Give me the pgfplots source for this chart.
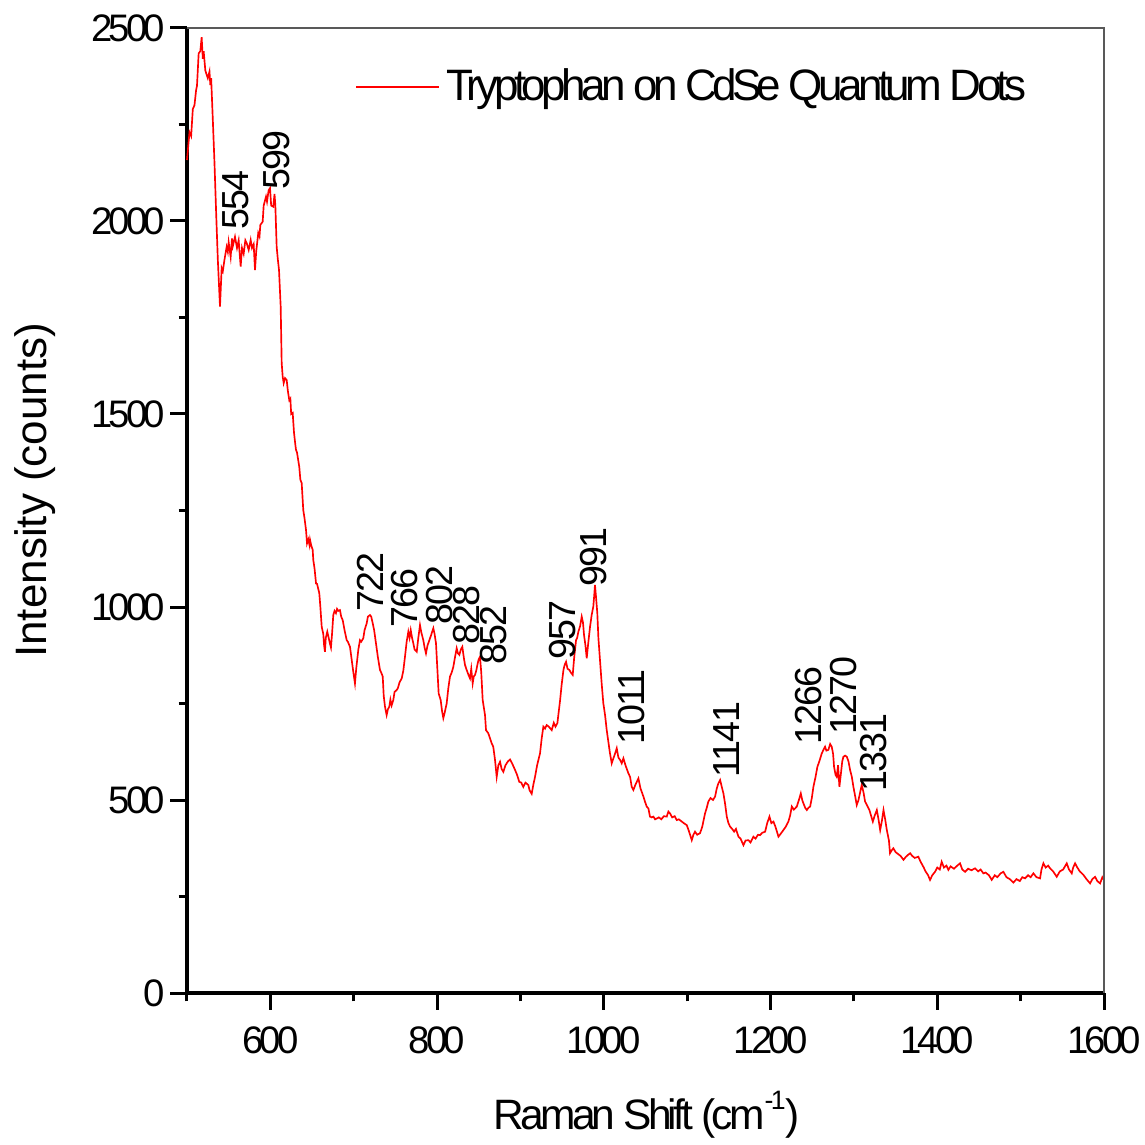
\documentclass[border=0pt]{standalone}
\usepackage{fontspec}
\setmainfont{Liberation Sans}
\newfontfamily\tickfont{Liberation Sans}[LetterSpace=-10]
\newfontfamily\legfont{Liberation Sans}[LetterSpace=-10.5]
\newfontfamily\xlabfont{Liberation Sans}[LetterSpace=-9]
\newfontfamily\annfont{Liberation Sans}[LetterSpace=-5]
\usepackage{pgfplots}
\pgfplotsset{compat=1.18}
\begin{document}
\begin{tikzpicture}
\begin{axis}[
 scale only axis, width=275.1pt, height=289.5pt,
 xmin=500, xmax=1600, ymin=0, ymax=2500,
 axis x line*=bottom, axis y line*=left,
 axis line style={line width=1pt, black},
 tick align=outside,
 xtick={600,800,...,1600}, minor xtick={500,700,...,1500},
 ytick={0,500,...,2500}, minor ytick={250,750,...,2250},
 major tick length=5pt, minor tick length=2.5pt,
 every tick/.style={black, line width=0.9pt},
 tick label style={font=\tickfont\fontsize{11.5}{13}\selectfont},
 yticklabel style={xshift=2pt},
 xticklabel style={yshift=-1.5pt},
 /pgf/number format/assume math mode=true,
 /pgf/number format/1000 sep={},
 xlabel={Raman Shift (cm\raisebox{0.9ex}{\fontsize{8}{9}\selectfont -1})},
 ylabel={Intensity (counts)},
 xlabel style={font=\xlabfont\fontsize{12.75}{15}\selectfont, at={(axis description cs:0.5016,-0.126)}, anchor=center},
 ylabel style={font=\fontsize{13.2}{15}\selectfont, at={(axis description cs:-0.166,0.521)}, anchor=center},
 legend style={at={(axis description cs:0.183,0.939)}, anchor=west, draw=none, fill=none, font=\legfont\fontsize{13.2}{15}\selectfont, inner sep=0pt},
 legend cell align=left,
 legend image code/.code={\draw[#1] (0cm,0cm) -- (0.87cm,0cm);},
 clip=false,
]
\addplot[red, line width=0.5pt] coordinates {
(500,2158)(503,2230)(505,2220)(507,2290)(509,2300)(511,2340)(512,2350)(514,2434)(516,2440)(517.6,2476)(519,2420)(520,2440)(522,2390)(523,2383)(525,2370)(527,2387)(528,2352)(529,2370)(531,2262)(533,2150)(535,2020)(537,1900)(539.6,1778)(541.6,1878)(543,1870)(545,1900)(547.6,1933)(549,1920)(550,1945)(552.4,1907)(554,1955)(555,1935)(557.6,1959)(560,1930)(562,1950)(564.4,1882)(566,1930)(568,1915)(570,1950)(571.6,1943)(574,1925)(576.4,1951)(578,1930)(580,1940)(581.6,1873)(583,1920)(585.5,1969)(587,1960)(588,1990)(590.8,1998)(592,2040)(594.8,2063)(596,2050)(598,2080)(599.6,2085)(601,2040)(603.5,2037)(605,2070)(606,2040)(607.6,1933)(609,1900)(610.4,1873)(612.4,1778)(613.6,1632)(614.8,1597)(616,1580)(617.6,1593)(619.6,1588)(621,1560)(622.7,1536)(624,1540)(625,1500)(626.8,1503)(628.4,1451)(630,1420)(630.8,1407)(632,1400)(634.7,1363)(636,1330)(637.6,1321)(639.5,1251)(641,1230)(642.8,1199)(644,1165)(645.5,1175)(647,1160)(647.6,1174)(649,1160)(650.8,1148)(651.5,1122)(653,1100)(654.8,1061)(656,1060)(658.7,1036)(660,1000)(661.6,949)(663.5,930)(664.5,900)(665.5,884)(666.5,920)(668.3,936)(670,920)(671.5,905)(672.7,895)(674,930)(675.5,979)(677,990)(678.7,984)(680,995)(681.5,990)(683.5,992)(685,975)(686.8,966)(689,940)(691.6,914)(693,910)(695.5,897)(697.6,863)(699,840)(700.3,820)(701.5,802)(703,840)(705.5,889)(707.5,914)(709,910)(711.5,919)(713,940)(715.6,958)(717,975)(719.5,979)(721,975)(722.8,958)(724.5,940)(726.7,906)(729,870)(731.5,837)(733,830)(734.8,820)(736,770)(737.5,742)(739.5,720)(741,735)(742.7,742)(744,760)(745.5,745)(747.5,759)(749,780)(751.6,785)(753,790)(755,805)(757.6,815)(759.5,835)(761.5,871)(763.5,910)(765.5,936)(767,920)(768.4,940)(770,920)(771.5,906)(773,890)(775.6,884)(777.5,920)(779.5,953)(781,935)(783.5,914)(785,895)(786.7,880)(788.5,900)(790.7,914)(792.5,925)(795.5,945)(797,930)(798.7,906)(801.9,776)(804.3,759)(806,730)(807.5,712)(809,725)(811.5,750)(813.5,790)(815.5,820)(817.5,830)(819.5,845)(821.5,870)(823.5,893)(825,880)(826.7,876)(828.5,890)(830.3,897)(832,870)(833.5,850)(835.5,837)(837.5,825)(839.5,815)(841,840)(842.7,802)(844,820)(845.5,824)(847,835)(848.7,854)(850,865)(851.5,871)(853,830)(854.7,759)(857.5,720)(858.7,681)(861.4,673)(863.5,660)(865.5,647)(867.4,638)(869.5,604)(871.5,560)(873.5,590)(875.5,599)(877.5,580)(879.5,573)(882,590)(885,600)(887.5,605)(890,595)(893.5,578)(896,565)(898.6,547)(901,545)(903.4,534)(906,545)(909.4,539)(911,525)(913.5,516)(915.5,540)(917.5,560)(920,590)(923.5,621)(925.5,660)(927.5,690)(929.5,685)(931.5,694)(934,690)(937.5,681)(940,700)(942,690)(944.3,699)(946,730)(947.6,759)(949.5,800)(951.6,837)(953,850)(954.7,858)(956.5,840)(958.7,837)(960.5,830)(962.7,824)(964.5,870)(966.7,914)(968,920)(969.5,936)(971.5,950)(973.5,975)(975,960)(976.3,927)(978,900)(979.5,867)(981.5,910)(983.5,949)(985.5,980)(987.4,1001)(988.5,1030)(989.4,1057)(990.5,1030)(992.2,984)(993.5,920)(995.4,863)(997.5,800)(999.4,751)(1001.5,720)(1003.5,681)(1005.5,650)(1007.4,621)(1009.5,595)(1011,605)(1013.5,620)(1015.5,634)(1017.5,610)(1019.5,604)(1021.5,595)(1023.5,608)(1026,590)(1029.5,569)(1031.5,560)(1033.5,534)(1035.5,526)(1038,540)(1041.5,556)(1044,530)(1047.5,509)(1049.5,495)(1051.5,483)(1053.5,478)(1055.4,457)(1057.5,455)(1059.5,457)(1061.5,450)(1063.5,452)(1066,455)(1069,450)(1072,458)(1075.5,457)(1077.5,470)(1079.5,465)(1082,455)(1085,458)(1087.5,448)(1090,450)(1093,445)(1096,440)(1099.5,435)(1102,420)(1105.5,396)(1107.5,410)(1109.4,418)(1112,410)(1115.4,414)(1118,430)(1121.4,465)(1123.5,480)(1125.4,496)(1128,505)(1131,500)(1133.5,509)(1135.5,530)(1137.4,543)(1139.5,552)(1141.5,534)(1143.5,517)(1145.5,490)(1147.5,457)(1149.5,440)(1151.5,431)(1154,425)(1156.3,418)(1158.5,425)(1161.5,405)(1164,400)(1167.5,383)(1170,395)(1173.5,396)(1176,390)(1179.4,405)(1182,400)(1185,410)(1187.5,409)(1190,415)(1193.5,418)(1196,440)(1198.7,457)(1201,440)(1203.5,444)(1206,430)(1209.5,405)(1212,412)(1215.4,422)(1218,430)(1221.4,444)(1223.5,460)(1225.5,483)(1228,475)(1231.5,483)(1234,500)(1236.3,517)(1238,500)(1239.5,491)(1241.5,480)(1243.5,474)(1245.5,480)(1247.5,483)(1249.5,505)(1251.4,534)(1254,560)(1256.2,586)(1258.5,600)(1261.5,621)(1263.5,630)(1265.4,638)(1267,628)(1269.4,630)(1271.5,645)(1273.4,638)(1275,620)(1276.2,586)(1278,565)(1279.4,560)(1281,590)(1282.6,534)(1284.5,570)(1286,600)(1287.4,612)(1289.5,615)(1291.5,612)(1293.5,600)(1295.4,578)(1297.5,560)(1299.4,534)(1301.5,510)(1303.4,487)(1305.5,500)(1307.5,520)(1309.4,539)(1311.5,520)(1313.4,496)(1316,485)(1318.6,474)(1320.5,460)(1322.7,444)(1325,460)(1327.5,474)(1329.5,450)(1331.5,422)(1333.5,445)(1335.5,474)(1337.5,450)(1339.5,422)(1342,395)(1343.3,362)(1345.5,370)(1347.3,375)(1350,365)(1353,360)(1356,355)(1359.5,345)(1362,352)(1365,358)(1367.5,362)(1370,355)(1373,350)(1377.3,353)(1380,340)(1383.3,327)(1386,315)(1389,305)(1391.3,293)(1394,305)(1397.3,314)(1400,325)(1403,320)(1405.3,340)(1408,325)(1411,330)(1413.3,319)(1416,328)(1420,322)(1424,330)(1427.3,336)(1430,320)(1433.3,314)(1437,322)(1441,318)(1445.3,323)(1449,315)(1452,320)(1455.3,310)(1458,312)(1462,305)(1465.3,293)(1469,305)(1472,300)(1476,310)(1479.3,314)(1483,300)(1487,295)(1491.3,286)(1495,295)(1499,290)(1502,300)(1505.3,297)(1509,305)(1512,300)(1515.3,310)(1519,300)(1523.3,297)(1525,320)(1527.3,336)(1530,325)(1533,330)(1535.3,323)(1539,315)(1543.3,301)(1547,315)(1551,320)(1555.3,336)(1558,320)(1561.3,310)(1563,325)(1565.3,336)(1568,325)(1571,315)(1575.3,306)(1579,295)(1583.3,284)(1586,295)(1589.3,301)(1592,290)(1595.3,284)(1598,300)(1600,293)
};
\addlegendentry{Tryptophan on CdSe Quantum Dots}
\draw[gray!70!black, line width=0.4pt] (rel axis cs:0,1) -- (rel axis cs:1,1) -- (rel axis cs:1,0);
\begin{scope}[every node/.style={rotate=90, anchor=west, inner sep=0pt, font=\annfont\fontsize{11.3}{13}\selectfont}]
\node at (axis cs:558.8,1977) {554};
\node at (axis cs:608,2080) {599};
\node at (axis cs:719.5,987) {722};
\node at (axis cs:761.5,946) {766};
\node at (axis cs:803.5,953) {802};
\node at (axis cs:835.9,902) {828};
\node at (axis cs:868.3,850) {852};
\node at (axis cs:951,863) {957};
\node at (axis cs:988.2,1052) {991};
\node at (axis cs:1033.8,642) {1011};
\node at (axis cs:1147.8,557) {1141};
\node at (axis cs:1245,642) {1266};
\node at (axis cs:1287,668) {1270};
\node at (axis cs:1323,521) {1331};
\end{scope}
\coordinate (bbl) at (rel axis cs:-0.2039,-0.1575);
\coordinate (btr) at (rel axis cs:1.0447,1.029);
\end{axis}
\pgfresetboundingbox
\path (bbl) rectangle (btr);
\end{tikzpicture}
\end{document}
